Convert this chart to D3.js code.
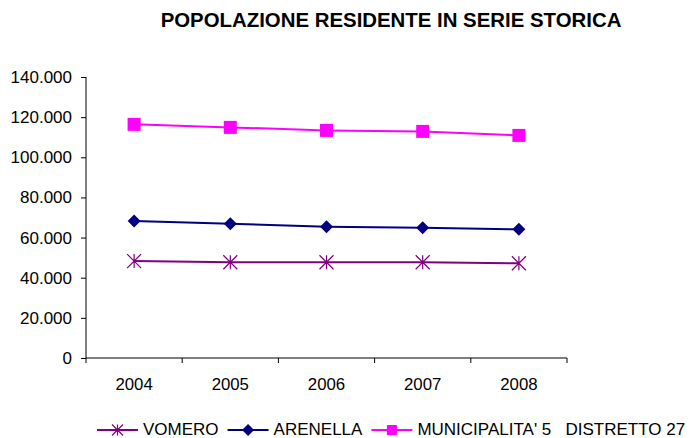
<!DOCTYPE html>
<html>
<head>
<meta charset="utf-8">
<script src="https://cdn.jsdelivr.net/npm/d3@7"></script>
<style>
  body { margin: 0; background: #fff; }
  text { font-family: Arial, "Liberation Sans", sans-serif; fill: #000; }
</style>
</head>
<body>
<div id="chart"></div>
<script>
const years = ['2004', '2005', '2006', '2007', '2008'];
const vomero = [48300, 47700, 47700, 47700, 47200];
const arenella = [68300, 66900, 65400, 64900, 64100];
const municipalita = [116400, 114900, 113400, 112900, 110900];
const yTicks = [0, 20000, 40000, 60000, 80000, 100000, 120000, 140000];

const series = [
	{ name: 'VOMERO', values: vomero, color: '#800080', marker: 'star' },
	{ name: 'ARENELLA', values: arenella, color: '#000080', marker: 'diamond' },
	{ name: "MUNICIPALITA' 5   DISTRETTO 27", values: municipalita, color: '#FF00FF', marker: 'square' },
];

const width = 693;
const height = 438;
const plot = { left: 86, right: 567, top: 77, bottom: 358 };

const itFormat = d3.formatLocale({ decimal: ',', thousands: '.', grouping: [3], currency: ['', ''] }).format(',d');

const xScale = d3.scaleBand().domain(years).range([plot.left, plot.right]);
const yScale = d3.scaleLinear().domain([0, 140000]).range([plot.bottom, plot.top]);

const svg = d3.select('#chart').append('svg')
		.attr('width', width)
		.attr('height', height);

// title
svg.append('text')
		.attr('x', 391)
		.attr('y', 27)
		.attr('text-anchor', 'middle')
		.style('font-size', '20.4px')
		.style('font-weight', 'bold')
		.text('POPOLAZIONE RESIDENTE IN SERIE STORICA');

// y axis
const yAxis = d3.axisLeft(yScale)
		.tickValues(yTicks)
		.tickSize(5)
		.tickPadding(9)
		.tickFormat((d) => d === 0 ? '0' : itFormat(d));

const gy = svg.append('g')
		.attr('transform', `translate(${plot.left},0)`)
		.call(yAxis);
gy.select('.domain').attr('stroke', '#000').attr('d', `M0,${plot.top}V${plot.bottom}`);
gy.selectAll('.tick line').attr('stroke', '#000');
gy.selectAll('.tick text')
		.style('font-size', '17px')
		.style('font-family', 'Arial, "Liberation Sans", sans-serif')
		.attr('fill', '#000');

// x axis: ticks between categories
const gx = svg.append('g');
gx.append('line')
		.attr('x1', plot.left).attr('x2', plot.right)
		.attr('y1', plot.bottom).attr('y2', plot.bottom)
		.attr('stroke', '#000');
const boundaries = years.map((y) => xScale(y)).concat([xScale.range()[1]]);
gx.selectAll('.xtick')
		.data(boundaries)
		.enter().append('line')
		.attr('x1', (d) => d).attr('x2', (d) => d)
		.attr('y1', plot.bottom).attr('y2', plot.bottom + 5)
		.attr('stroke', '#000');
gx.selectAll('.xlabel')
		.data(years)
		.enter().append('text')
		.attr('x', (d) => xScale(d) + xScale.bandwidth() / 2)
		.attr('y', 390)
		.attr('text-anchor', 'middle')
		.style('font-size', '16.8px')
		.text((d) => d);

function drawMarker(g, type, color, s) {
	if (type === 'square') {
		g.append('rect')
				.attr('x', -s / 2).attr('y', -s / 2)
				.attr('width', s).attr('height', s)
				.attr('fill', color);
	} else if (type === 'diamond') {
		const h = s / 2;
		g.append('path')
				.attr('d', `M0,${-h}L${h},0L0,${h}L${-h},0Z`)
				.attr('fill', color);
	} else {
		const h = s / 2;
		g.append('path')
				.attr('d', `M${-h},${-h}L${h},${h}M${-h},${h}L${h},${-h}M0,${-h}V${h}`)
				.attr('stroke', color)
				.attr('stroke-width', 1.2)
				.attr('fill', 'none');
	}
}

const line = d3.line()
		.x((d, i) => xScale(years[i]) + xScale.bandwidth() / 2)
		.y((d) => yScale(d));

series.forEach((s) => {
	svg.append('path')
			.datum(s.values)
			.attr('d', line)
			.attr('fill', 'none')
			.attr('stroke', s.color)
			.attr('stroke-width', 2);
	s.values.forEach((v, i) => {
		const g = svg.append('g')
				.attr('transform', `translate(${xScale(years[i]) + xScale.bandwidth() / 2},${yScale(v)})`);
		drawMarker(g, s.marker, s.color, s.marker === 'star' ? 14 : 13);
	});
});

// legend
const legendMarker = { star: 11, diamond: 12, square: 10 };
const legend = svg.append('g').attr('transform', 'translate(97,430)');
let lx = 0;
series.forEach((s) => {
	const item = legend.append('g').attr('transform', `translate(${lx},0)`);
	item.append('line')
			.attr('x1', 0).attr('x2', 41)
			.attr('y1', 0).attr('y2', 0)
			.attr('stroke', s.color)
			.attr('stroke-width', 2);
	const m = item.append('g').attr('transform', 'translate(20.5,0)');
	drawMarker(m, s.marker, s.color, legendMarker[s.marker]);
	const t = item.append('text')
			.attr('x', 46)
			.attr('y', 4.5)
			.style('font-size', '17px')
			.style('white-space', 'pre')
			.text(s.name);
	lx += 46 + t.node().getComputedTextLength() + 9;
});
</script>
</body>
</html>
